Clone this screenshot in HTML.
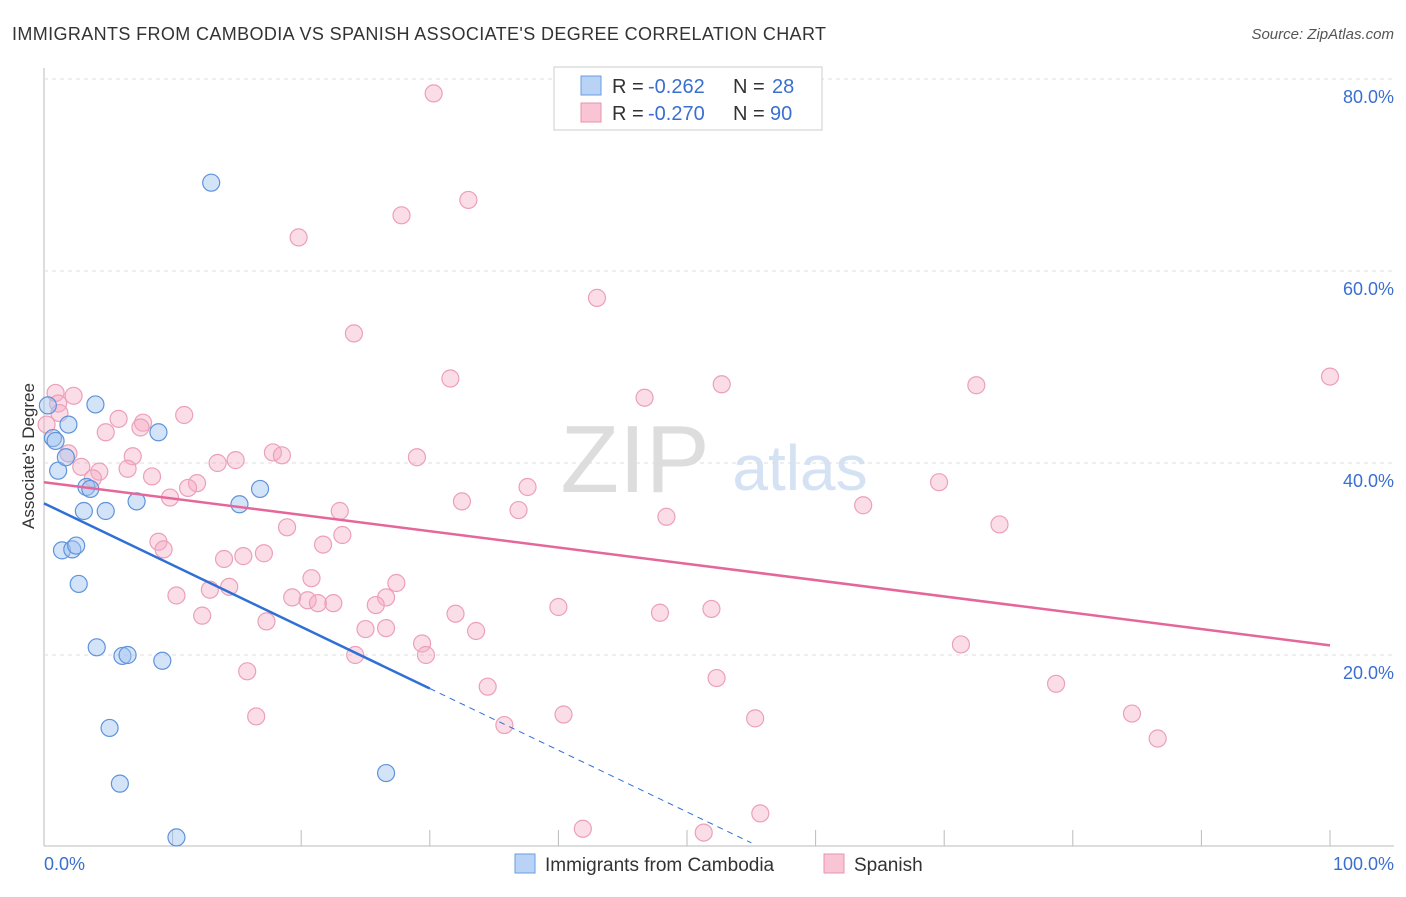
<!DOCTYPE html>
<html><head><meta charset="utf-8"><style>
body{margin:0;background:#fff;font-family:"Liberation Sans",sans-serif;}
svg text{font-family:"Liberation Sans",sans-serif;}
</style></head><body>
<svg id="c" width="1406" height="892">
<text x="12" y="40" font-size="18" fill="#333" textLength="814">IMMIGRANTS FROM CAMBODIA VS SPANISH ASSOCIATE'S DEGREE CORRELATION CHART</text>
<text x="1394" y="39" font-size="15" fill="#555" font-style="italic" text-anchor="end">Source: ZipAtlas.com</text>
<text x="0" y="0" transform="translate(34,456) rotate(-90)" font-size="17" fill="#333" text-anchor="middle">Associate's Degree</text>
<text x="635" y="492" font-size="96" fill="#ddd" text-anchor="middle" font-family="Liberation Serif">ZIP</text>
<text x="800" y="490" font-size="64" fill="#d4e2f4" text-anchor="middle">atlas</text>
<g id="grid"></g><g id="pts"></g><g id="lines"></g>
<g>
<rect x="554" y="67" width="268" height="63" fill="#fff" stroke="#ccc"/>
<rect x="581" y="76" width="20" height="19" fill="#b8d3f5" stroke="#6a9ee0"/>
<rect x="581" y="103" width="20" height="19" fill="#f9c5d5" stroke="#e892ae"/>
<text x="612" y="93" font-size="20" fill="#333">R =</text>
<text x="648" y="93" font-size="20" fill="#3a6fd0">-0.262</text>
<text x="733" y="93" font-size="20" fill="#333">N =</text>
<text x="772" y="93" font-size="20" fill="#3a6fd0">28</text>
<text x="612" y="120" font-size="20" fill="#333">R =</text>
<text x="648" y="120" font-size="20" fill="#3a6fd0">-0.270</text>
<text x="733" y="120" font-size="20" fill="#333">N =</text>
<text x="770" y="120" font-size="20" fill="#3a6fd0">90</text>
</g>
<g>
<rect x="515" y="854" width="20" height="19" fill="#b8d3f5" stroke="#6a9ee0"/>
<text x="545" y="871" font-size="19" fill="#333">Immigrants from Cambodia</text>
<rect x="824" y="854" width="20" height="19" fill="#f9c5d5" stroke="#e892ae"/>
<text x="854" y="871" font-size="19" fill="#333">Spanish</text>
</g>
<text x="44" y="870" font-size="18" fill="#3a6fd0">0.0%</text>
<text x="1394" y="870" font-size="18" fill="#3a6fd0" text-anchor="end">100.0%</text>
</svg>
<script>
const yTicks=[20,40,60,80];
const xTicks=[0,10,20,30,40,50,60,70,80,90,100];
const blueX=[0.3,0.7,0.9,1.1,1.9,1.7,4.0,3.3,3.6,3.1,4.8,7.2,8.9,1.4,2.2,2.5,2.7,4.1,6.1,6.5,9.2,5.1,5.9,10.3,13.0,15.2,16.8,26.6];
const blueY=[46.0,42.6,42.3,39.2,44.0,40.6,46.1,37.5,37.3,35.0,35.0,36.0,43.2,30.9,31.0,31.4,27.4,20.8,19.9,20.0,19.4,12.4,6.6,1.0,69.2,35.7,37.3,7.7];
const pinkX=[30.3,33.0,27.8,19.8,43.0,24.1,31.6,46.7,52.7,72.5,100,0.9,1.1,1.2,2.3,0.2,5.8,7.7,10.9,4.8,7.5,1.9,6.9,2.9,4.3,6.5,3.8,8.4,11.9,11.2,9.8,13.5,14.9,17.8,18.5,29.0,32.5,37.6,36.9,48.4,63.7,69.6,74.3,23.0,18.9,23.2,21.7,8.9,9.3,17.1,14.0,15.5,20.8,27.4,12.9,14.4,10.3,19.3,20.5,21.3,22.5,26.6,25.8,12.3,17.3,32.0,40.0,47.9,51.9,25.0,26.6,33.6,29.4,29.7,24.2,15.8,71.3,52.3,78.7,34.5,16.5,35.8,40.4,55.3,84.6,86.6,41.9,51.3,55.7];
const pinkY=[78.5,67.4,65.8,63.5,57.2,53.5,48.8,46.8,48.2,48.1,49.0,47.3,46.2,45.2,47.0,44.0,44.6,44.2,45.0,43.2,43.7,41.0,40.7,39.6,39.1,39.4,38.4,38.6,37.9,37.4,36.4,40.0,40.3,41.1,40.8,40.6,36.0,37.5,35.1,34.4,35.6,38.0,33.6,35.0,33.3,32.5,31.5,31.8,31.0,30.6,30.0,30.3,28.0,27.5,26.8,27.1,26.2,26.0,25.7,25.4,25.4,26.0,25.2,24.1,23.5,24.3,25.0,24.4,24.8,22.7,22.8,22.5,21.2,20.0,20.0,18.3,21.1,17.6,17.0,16.7,13.6,12.7,13.8,13.4,13.9,11.3,1.9,1.5,3.5];
const pinkTrend=[38.0,21.0];
const blueTrend=[35.8,-0.643,30,55];
const X=v=>44+v*12.86, Y=v=>847-v*9.6;
const NS='http://www.w3.org/2000/svg';
function mk(t,a,p){const e=document.createElementNS(NS,t);for(const k in a)e.setAttribute(k,a[k]);p.appendChild(e);return e;}
const g=document.getElementById('grid');
const ax=mk('line',{x1:44,y1:68,x2:44,y2:846,stroke:'#bbb'},g);


const bx=mk('line',{x1:44,y1:846,x2:1394,y2:846,stroke:'#bbb'},g);


yTicks.forEach(t=>{
 const l=mk('line',{x1:44,y1:Y(t),x2:1394,y2:Y(t),stroke:'#ddd','stroke-dasharray':'4,4'},g);
 
 
 const tx=mk('text',{x:1394,y:Y(t)+24,'font-size':18,fill:'#3a6fd0','text-anchor':'end'},g);
 tx.textContent=t.toFixed(1)+'%';
 
 
});
xTicks.forEach(t=>{
 const l=mk('line',{x1:X(t),y1:830,x2:X(t),y2:846,stroke:'#bbb'},g);
 
 
});
const P=document.getElementById('pts');
pinkX.forEach((v,i)=>{
 const c=mk('circle',{cx:X(v),cy:Y(pinkY[i]),r:8.5,fill:'rgba(246,170,194,0.4)',stroke:'#eca0b8','stroke-width':1.2},P);
 
 
});
blueX.forEach((v,i)=>{
 const c=mk('circle',{cx:X(v),cy:Y(blueY[i]),r:8.5,fill:'rgba(160,196,240,0.45)',stroke:'#5f93dc','stroke-width':1.2},P);
 
 
});
const L=document.getElementById('lines');
const pl=mk('line',{x1:X(0),y1:Y(pinkTrend[0]),x2:X(100),y2:Y(pinkTrend[1]),stroke:'#e5679a','stroke-width':2.5},L);


const bl=mk('line',{x1:X(0),y1:Y(blueTrend[0]),x2:X(blueTrend[2]),y2:Y(blueTrend[0]+blueTrend[1]*blueTrend[2]),stroke:'#2f6fd6','stroke-width':2.5},L);


const bd=mk('line',{x1:X(blueTrend[2]),y1:Y(blueTrend[0]+blueTrend[1]*blueTrend[2]),x2:X(blueTrend[3]),y2:Y(blueTrend[0]+blueTrend[1]*blueTrend[3]),stroke:'#2f6fd6','stroke-width':1,'stroke-dasharray':'6,5'},L);


</script>
</body></html>
